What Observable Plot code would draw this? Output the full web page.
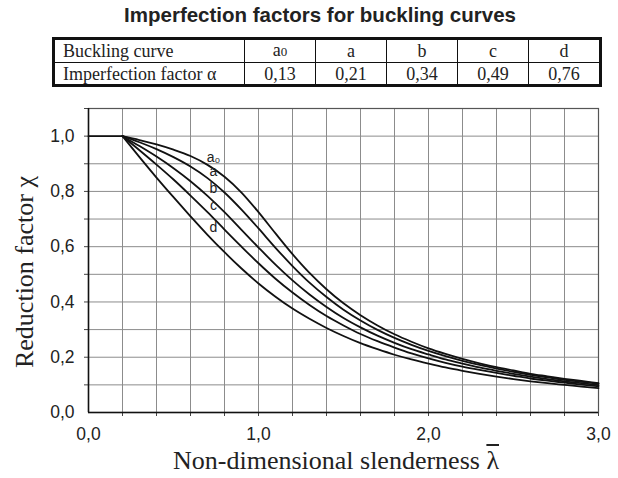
<!DOCTYPE html>
<html>
<head>
<meta charset="utf-8">
<script src="https://cdn.jsdelivr.net/npm/d3@7"></script>
<script src="https://cdn.jsdelivr.net/npm/@observablehq/plot@0.6"></script>
<style>
  html, body { margin: 0; padding: 0; background: #fff; }
  #page { position: relative; width: 618px; height: 478px; overflow: hidden; }
  #title { position: absolute; left: 0; width: 640px; top: 3px; text-align: center;
           font: bold 20.5px "Liberation Sans", Arial, sans-serif; color: #222; }
  #tbl { position: absolute; left: 52px; top: 37px; border-collapse: collapse;
         border: 3px solid #111; font: 18px "Liberation Serif", "Times New Roman", serif; color: #222; }
  #tbl td { border: 1px solid #111; padding: 0; height: 21px; line-height: 20px; text-align: center; }
  #tbl td.first { text-align: left; padding-left: 8px; width: 181px; }
  #tbl td.v { width: 70px; }
  #chart { position: absolute; left: 0; top: 90px; }
  #ylabel { position: absolute; left: 25px; top: 272px; transform: translate(-50%, -50%) rotate(-90deg);
            white-space: nowrap; font: 26px "Liberation Serif", "Times New Roman", serif; color: #222; }
  #xlabel { position: absolute; left: 0; width: 672px; top: 446px; text-align: center; white-space: nowrap;
            font: 26px "Liberation Serif", "Times New Roman", serif; color: #222; }
  .ov { text-decoration: overline; text-decoration-thickness: 1.5px; }
</style>
</head>
<body>
<div id="page">
  <div id="title"></div>
  <table id="tbl"></table>
  <div id="chart"></div>
  <div id="ylabel"></div>
  <div id="xlabel"></div>
</div>
<script>
// ---- data ----
const curveNames = ["a₀", "a", "b", "c", "d"];
const alphaLabels = ["0,13", "0,21", "0,34", "0,49", "0,76"];
const lambda = [0.2, 0.3, 0.4, 0.5, 0.6, 0.7, 0.8, 0.9, 1.0, 1.1, 1.2, 1.3, 1.4, 1.5, 1.6,
                1.7, 1.8, 1.9, 2.0, 2.1, 2.2, 2.3, 2.4, 2.5, 2.6, 2.7, 2.8, 2.9, 3.0];
const chiA0 = [1, 0.986, 0.970, 0.951, 0.928, 0.896, 0.853, 0.796, 0.725, 0.648, 0.573, 0.505, 0.446, 0.395, 0.352,
               0.315, 0.283, 0.256, 0.232, 0.212, 0.194, 0.178, 0.164, 0.152, 0.140, 0.131, 0.122, 0.114, 0.106];
const chiA  = [1, 0.978, 0.953, 0.924, 0.890, 0.848, 0.796, 0.734, 0.666, 0.596, 0.530, 0.470, 0.418, 0.372, 0.333,
               0.299, 0.270, 0.245, 0.223, 0.204, 0.187, 0.172, 0.159, 0.147, 0.136, 0.127, 0.118, 0.111, 0.104];
const chiB  = [1, 0.964, 0.926, 0.884, 0.837, 0.784, 0.725, 0.661, 0.597, 0.535, 0.478, 0.427, 0.382, 0.342, 0.308,
               0.278, 0.252, 0.229, 0.210, 0.192, 0.177, 0.163, 0.151, 0.140, 0.130, 0.121, 0.113, 0.106, 0.099];
const chiC  = [1, 0.949, 0.897, 0.843, 0.785, 0.725, 0.662, 0.600, 0.540, 0.484, 0.434, 0.389, 0.349, 0.315, 0.284,
               0.258, 0.235, 0.214, 0.196, 0.180, 0.166, 0.154, 0.143, 0.133, 0.123, 0.115, 0.108, 0.101, 0.095];
const chiD  = [1, 0.924, 0.850, 0.779, 0.710, 0.643, 0.580, 0.521, 0.467, 0.419, 0.376, 0.339, 0.306, 0.277, 0.251,
               0.229, 0.209, 0.192, 0.177, 0.163, 0.151, 0.140, 0.130, 0.121, 0.113, 0.106, 0.100, 0.094, 0.088];
const plateauLambda = [0, 0.2];
const plateauChi = [1, 1];
const labelLambda = 0.7;
const xTickLabels = [0, 1, 2, 3];
const yTickLabels = [0, 0.2, 0.4, 0.6, 0.8, 1.0];
const xGrid = [0.2, 0.4, 0.6, 0.8, 1.0, 1.2, 1.4, 1.6, 1.8, 2.0, 2.2, 2.4, 2.6, 2.8, 3.0];
const yGrid = [0.1, 0.2, 0.3, 0.4, 0.5, 0.6, 0.7, 0.8, 0.9, 1.0, 1.1];
const titleText = "Imperfection factors for buckling curves";
const rowHead1 = "Buckling curve";
const rowHead2 = "Imperfection factor α";
const yLabelText = "Reduction factor χ";
const xLabelText = "Non-dimensional slenderness ";
const xLabelSymbol = "λ";

// ---- html parts ----
document.getElementById("title").textContent = titleText;
const tbl = document.getElementById("tbl");
function subName(n) { return n === "a₀" ? "a<span style='font-size:13px'>0</span>" : n; }
tbl.innerHTML =
  "<tr><td class='first'>" + rowHead1 + "</td>" + curveNames.map(n => "<td class='v'>" + subName(n) + "</td>").join("") + "</tr>" +
  "<tr><td class='first'>" + rowHead2 + "</td>" + alphaLabels.map(a => "<td class='v'>" + a + "</td>").join("") + "</tr>";
document.getElementById("ylabel").textContent = yLabelText;
document.getElementById("xlabel").innerHTML = xLabelText + "<span class='ov'>" + xLabelSymbol + "</span>";

// ---- chart ----
const series = [chiA0, chiA, chiB, chiC, chiD];
const rows = [];
series.forEach((s, k) => s.forEach((v, i) => rows.push({lambda: lambda[i], chi: v, curve: curveNames[k]})));
const plateau = plateauLambda.map((l, i) => ({lambda: l, chi: plateauChi[i]}));
const li = lambda.indexOf(labelLambda);
const labels = series.map((s, k) => ({lambda: lambda[li], chi: s[li], curve: curveNames[k]}));
const fmt = d => d.toFixed(1).replace(".", ",");

const chart = Plot.plot({
  width: 618,
  height: 388,
  marginLeft: 88,
  marginRight: 20,
  marginTop: 18,
  marginBottom: 66,
  style: {fontFamily: "'Liberation Sans', Arial, sans-serif", fontSize: "17.5px", color: "#222", background: "#fff"},
  x: {domain: [0, 3], label: null},
  y: {domain: [0, 1.1], label: null},
  marks: [
    Plot.ruleX(xGrid, {stroke: "#8c8c8c", strokeWidth: 1}),
    Plot.ruleY(yGrid, {stroke: "#8c8c8c", strokeWidth: 1}),
    Plot.frame({stroke: "#555", strokeWidth: 1.2}),
    Plot.axisX(xGrid, {tickSize: 4, tickFormat: () => "", stroke: "#444"}),
    Plot.axisX(xTickLabels, {tickSize: 0, tickPadding: 15, tickFormat: fmt, fontSize: 17.5, fill: "#222"}),
    Plot.axisY(yGrid, {tickSize: 4, tickFormat: () => "", stroke: "#444"}),
    Plot.axisY(yTickLabels, {tickSize: 0, tickPadding: 14, tickFormat: fmt, fontSize: 17.5, fill: "#222"}),
    Plot.ruleX([0], {stroke: "#111", strokeWidth: 1.5}),
    Plot.ruleY([0], {stroke: "#111", strokeWidth: 1.5}),
    Plot.line(plateau, {x: "lambda", y: "chi", stroke: "#111", strokeWidth: 1.8}),
    Plot.line(rows, {x: "lambda", y: "chi", z: "curve", stroke: "#111", strokeWidth: 1.8, curve: "monotone-x"}),
    Plot.text(labels, {x: "lambda", y: "chi", text: "curve", dx: 6, dy: -7, fontSize: 14, fill: "#222"})
  ]
});
document.getElementById("chart").appendChild(chart);
</script>
</body>
</html>
